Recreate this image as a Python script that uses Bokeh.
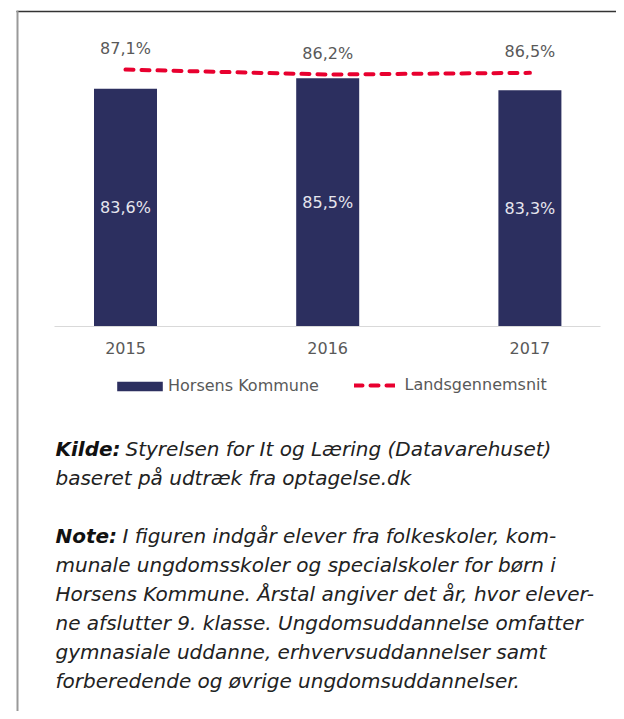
from bokeh.plotting import figure
from bokeh.models import (Range1d, ColumnDataSource, LabelSet, Label, Legend, LegendItem,
                          PolyAnnotation, FixedTicker, NumeralTickFormatter)
from bokeh.core.properties import value
from bokeh.embed import file_html
from bokeh.resources import INLINE

# ---------------- data ----------------
years = [2015, 2016, 2017]
horsens = [83.6, 85.5, 83.3]          # Horsens Kommune (bars)
lands = [87.1, 86.2, 86.5]            # Landsgennemsnit (dashed line)
series_names = ["Horsens Kommune", "Landsgennemsnit"]
y_axis_min = 40
y_axis_max = 95

kilde_head = "Kilde:"
kilde_lines = ["Styrelsen for It og Læring (Datavarehuset)",
               "baseret på udtræk fra optagelse.dk"]
note_head = "Note:"
note_lines = ["I figuren indgår elever fra folkeskoler, kom-",
              "munale ungdomsskoler og specialskoler for børn i",
              "Horsens Kommune. Årstal angiver det år, hvor elever-",
              "ne afslutter 9. klasse. Ungdomsuddannelse omfatter",
              "gymnasiale uddanne, erhvervsuddannelser samt",
              "forberedende og øvrige ungdomsuddannelser."]


def pct(v):
    return f"{v:.1f}".replace(".", ",") + "%"


# ---------------- style / geometry ----------------
FONT = "DejaVu Sans"
NAVY = "#2c2f5f"
RED = "#e8002f"
GREY = "#595959"
W, H = 616, 711

# chart area in canvas pixels
PLOT_LEFT, PLOT_RIGHT = 54, 600       # extent of the category axis line
PLOT_TOP, PLOT_BOTTOM = 26, 326       # value axis 40..95
FIRST_CENTER, CAT_STEP = 125.0, 202.2  # px of first category, px per category

px_per_x = CAT_STEP
x0 = years[0] - FIRST_CENTER / px_per_x
x1 = x0 + W / px_per_x
px_per_y = (PLOT_BOTTOM - PLOT_TOP) / (y_axis_max - y_axis_min)
y0 = y_axis_min - (H - PLOT_BOTTOM) / px_per_y
y1 = y_axis_min + PLOT_BOTTOM / px_per_y


def sx(px):
    return px


def sy(py):
    return H - py


p = figure(width=W, height=H,
           x_range=Range1d(x0, x1), y_range=Range1d(y0, y1),
           output_backend="svg", toolbar_location=None,
           y_axis_location=None,
           min_border=0, min_border_left=0, min_border_right=0,
           min_border_top=0, min_border_bottom=0)
p.outline_line_color = None
p.xgrid.visible = False
p.ygrid.visible = False
p.background_fill_color = "white"
p.border_fill_color = "white"

xa = p.xaxis[0]
xa.fixed_location = y_axis_min
xa.bounds = (x0 + PLOT_LEFT / px_per_x, x0 + PLOT_RIGHT / px_per_x)
xa.ticker = FixedTicker(ticks=years)
xa.formatter = NumeralTickFormatter(format="0")
xa.axis_line_color = "#d9d9d9"
xa.axis_line_width = 1
xa.major_tick_line_color = None
xa.minor_tick_line_color = None
xa.major_label_standoff = 9
xa.major_label_text_font = FONT
xa.major_label_text_font_size = "16px"
xa.major_label_text_color = GREY

src = ColumnDataSource(dict(
    year=years, h=horsens, l=lands,
    mid=[(y_axis_min + v) / 2 for v in horsens],
    hlab=[pct(v) for v in horsens],
    llab=[pct(v) for v in lands],
))

bars = p.vbar(x="year", top="h", bottom=y_axis_min, width=63 / px_per_x, source=src,
              fill_color=NAVY, line_color=None)
line = p.line(x="year", y="l", source=src, line_color=RED, line_width=4,
              line_dash="8 8", line_cap="round")

p.add_layout(LabelSet(x="year", y="l", text="llab", source=src, y_offset=21,
                      text_align="center", text_baseline="middle",
                      text_font=value(FONT), text_font_size=value("16px"),
                      text_color=GREY))
p.add_layout(LabelSet(x="year", y="mid", text="hlab", source=src,
                      text_align="center", text_baseline="middle",
                      text_font=value(FONT), text_font_size=value("16px"),
                      text_color="#e6e6ee"))

legend_style = dict(orientation="horizontal", padding=0, margin=0,
                    border_line_color=None, background_fill_alpha=0,
                    label_height=20, label_text_font=FONT,
                    label_text_font_size="16px", label_text_color=GREY,
                    label_text_baseline="middle")
# bar swatch (bokeh insets area swatches by 10% on each side)
p.add_layout(Legend(items=[LegendItem(label=value(series_names[0]), renderers=[bars])],
                    location=(sx(111), sy(395.5)), glyph_width=57, glyph_height=12,
                    label_standoff=-1, **legend_style), "center")
p.add_layout(Legend(items=[LegendItem(label=value(series_names[1]), renderers=[line])],
                    location=(sx(353.5), sy(394.5)), glyph_width=41, glyph_height=10,
                    label_standoff=10, **legend_style), "center")

# card border (top and left edge)
p.add_layout(PolyAnnotation(xs=[sx(16), sx(W), sx(W), sx(16)],
                            ys=[sy(10.2), sy(10.2), sy(11.8), sy(11.8)],
                            xs_units="screen", ys_units="screen",
                            fill_color="#333333", fill_alpha=1, line_color=None))
p.add_layout(PolyAnnotation(xs=[sx(16), sx(18), sx(18), sx(16)],
                            ys=[sy(10.2), sy(10.2), sy(H), sy(H)],
                            xs_units="screen", ys_units="screen",
                            fill_color="#999999", fill_alpha=1, line_color=None))

# notes
NOTE_SIZE = "20px"
TEXT_X = 55
line_ys = [448, 477, 535, 564, 593, 622, 651, 680]
all_lines = [(kilde_head, kilde_lines[0], 125), (None, kilde_lines[1], TEXT_X),
             (note_head, note_lines[0], 122)] + [(None, t, TEXT_X) for t in note_lines[1:]]

for (head, body, bx), py in zip(all_lines, line_ys):
    if head:
        p.add_layout(Label(x=sx(TEXT_X), y=sy(py), x_units="screen", y_units="screen",
                           text=head, text_font=FONT, text_font_size=NOTE_SIZE,
                           text_font_style="bold italic", text_color="#111111",
                           text_baseline="middle"))
    p.add_layout(Label(x=sx(bx), y=sy(py), x_units="screen", y_units="screen",
                       text=body, text_font=FONT, text_font_size=NOTE_SIZE,
                       text_font_style="italic", text_color="#222222",
                       text_baseline="middle"))

open("out.html", "w").write(file_html(p, INLINE))
